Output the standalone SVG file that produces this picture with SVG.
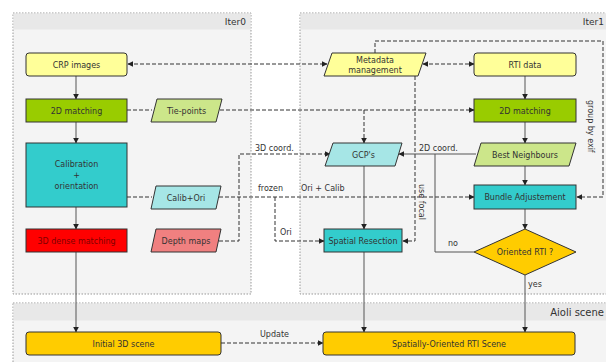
<svg xmlns="http://www.w3.org/2000/svg" width="606" height="362" viewBox="0 0 606 362">
<defs>
<marker id="ah" viewBox="0 0 10 10" refX="9" refY="5" markerWidth="6" markerHeight="6" orient="auto-start-reverse" markerUnits="userSpaceOnUse">
<path d="M0,0 L10,5 L0,10 z" fill="#222"/>
</marker>
<style>
.cont{fill:#f4f4f4;stroke:#999;stroke-width:1;stroke-dasharray:1.5,1.5}
.band{fill:#e8e8e8}
.ct{font-family:"DejaVu Sans",sans-serif;font-size:9px;fill:#333}
.t{font-family:"DejaVu Sans",sans-serif;font-size:8px;fill:#333;text-anchor:middle}
.lbl{font-family:"DejaVu Sans",sans-serif;font-size:8px;fill:#333}
.n{stroke:#333;stroke-width:1}
.s{fill:none;stroke:#555;stroke-width:1}
.d{fill:none;stroke:#333;stroke-width:1;stroke-dasharray:4,2}
</style>
</defs>
<rect width="606" height="362" fill="#fff"/>
<g id="containers">
<rect class="cont" x="13" y="13" width="238" height="281"/>
<rect class="band" x="13.5" y="13.5" width="237" height="16"/>
<text class="ct" x="246" y="25" text-anchor="end">Iter0</text>
<rect class="cont" x="300" y="13" width="310" height="281"/>
<rect class="band" x="300.5" y="13.5" width="306" height="16"/>
<text class="ct" x="604" y="25" text-anchor="end">Iter1</text>
<rect class="cont" x="13" y="303" width="600" height="70"/>
<rect class="band" x="13.5" y="303.5" width="593" height="17"/>
<text class="ct" x="604" y="316" text-anchor="end" style="font-size:10px">Aioli scene</text>
</g>
<g id="connectors">
<path class="s" d="M76,76 V99" marker-end="url(#ah)"/>
<path class="s" d="M76,122 V143" marker-end="url(#ah)"/>
<path class="s" d="M76,207 V229" marker-end="url(#ah)"/>
<path class="s" d="M76,252 V332" marker-end="url(#ah)"/>
<path class="d" d="M128,64 H327" marker-start="url(#ah)" marker-end="url(#ah)"/>
<path class="d" d="M423,64 H474" marker-start="url(#ah)" marker-end="url(#ah)"/>
<path class="d" d="M375,53 V41 H603 V197 H577" marker-end="url(#ah)"/>
<path class="d" d="M127,110 H152"/>
<path class="d" d="M220,110 H474" marker-end="url(#ah)"/>
<path class="d" d="M364,110 V143" marker-end="url(#ah)"/>
<path class="d" d="M127,197 H152"/>
<path class="d" d="M219,197 H474" marker-end="url(#ah)"/>
<path class="d" d="M275,197 V241 H324" marker-end="url(#ah)"/>
<path class="d" d="M219,241 H239 V154 H330" marker-end="url(#ah)"/>
<path class="d" d="M415,76 V241 H403" marker-end="url(#ah)"/>
<path class="s" d="M364,166 V229" marker-end="url(#ah)"/>
<path class="s" d="M476,154 H399" marker-end="url(#ah)"/>
<path class="s" d="M474,252 H435 V154"/>
<path class="s" d="M525,76 V99" marker-end="url(#ah)"/>
<path class="s" d="M525,122 V143" marker-end="url(#ah)"/>
<path class="s" d="M525,166 V185" marker-end="url(#ah)"/>
<path class="s" d="M525,209 V229" marker-end="url(#ah)"/>
<path class="s" d="M525,275 V332" marker-end="url(#ah)"/>
<path class="s" d="M364,252 V332" marker-end="url(#ah)"/>
<path class="d" d="M221,343 H323" marker-end="url(#ah)"/>
<text class="lbl" x="588" y="100" transform="rotate(90 588 100)">group by exif</text>
<text class="lbl" x="419" y="184" transform="rotate(90 419 184)">use focal</text>
<text class="lbl" x="255" y="151">3D coord.</text>
<text class="lbl" x="419" y="151">2D coord.</text>
<text class="lbl" x="258" y="191">frozen</text>
<text class="lbl" x="301" y="191">Ori + Calib</text>
<text class="lbl" x="280" y="235">Ori</text>
<text class="lbl" x="448" y="246">no</text>
<text class="lbl" x="528" y="287">yes</text>
<text class="lbl" x="260" y="337">Update</text>
</g>
<g id="crp"><rect class="n" x="26" y="53" width="101" height="23" rx="3" fill="#ffff99"/><text class="t" x="76.5" y="67.5">CRP images</text></g>
<g id="match0"><rect class="n" x="26" y="99" width="101" height="23" fill="#99cc00"/><text class="t" x="76.5" y="113.5">2D matching</text></g>
<g id="calib"><rect class="n" x="26" y="143" width="101" height="64" fill="#33cccc"/><text class="t" x="76.5" y="167">Calibration</text><text class="t" x="76.5" y="178">+</text><text class="t" x="76.5" y="189">orientation</text></g>
<g id="dense"><rect class="n" x="26" y="229" width="101" height="23" fill="#ff0000"/><text class="t" x="76.5" y="243.5" style="fill:#800000">3D dense matching</text></g>
<g id="tie"><polygon class="n" points="151,122 157,99 222,99 216,122" fill="#cce68a"/><text class="t" x="186.5" y="113.5">Tie-points</text></g>
<g id="calibori"><polygon class="n" points="151,209 156,186 221,186 216,209" fill="#a6e6e6"/><text class="t" x="186" y="200.5">Calib+Ori</text></g>
<g id="depth"><polygon class="n" points="151,252 156,229 221,229 216,252" fill="#f08080"/><text class="t" x="186" y="243.5">Depth maps</text></g>
<g id="init"><rect class="n" x="26" y="332" width="195" height="23" rx="3" fill="#ffcc00"/><text class="t" x="123.5" y="346.5">Initial 3D scene</text></g>
<g id="sors"><rect class="n" x="323" y="332" width="252" height="23" rx="3" fill="#ffcc00"/><text class="t" x="449" y="346.5">Spatially-Oriented RTI Scene</text></g>
<g id="meta"><polygon class="n" points="324,76 332,53 426,53 418,76" fill="#ffff99"/><text class="t" x="375" y="62.5">Metadata</text><text class="t" x="375" y="72.5">management</text></g>
<g id="rti"><rect class="n" x="474" y="53" width="102" height="23" rx="3" fill="#ffff99"/><text class="t" x="525" y="67.5">RTI data</text></g>
<g id="match1"><rect class="n" x="474" y="99" width="102" height="23" fill="#99cc00"/><text class="t" x="525" y="113.5">2D matching</text></g>
<g id="gcp"><polygon class="n" points="325,166 333,143 402,143 395,166" fill="#a6e6e6"/><text class="t" x="363.5" y="157.5">GCP's</text></g>
<g id="best"><polygon class="n" points="474,166 481,143 576,143 569,166" fill="#cce68a"/><text class="t" x="525" y="157.5">Best Neighbours</text></g>
<g id="bundle"><rect class="n" x="474" y="185" width="102" height="24" fill="#33cccc"/><text class="t" x="525" y="200">Bundle Adjustement</text></g>
<g id="resect"><rect class="n" x="324" y="229" width="78" height="23" fill="#33cccc"/><text class="t" x="363" y="243.5">Spatial Resection</text></g>
<g id="oriented"><polygon class="n" points="474,252 525,229 576,252 525,275" fill="#ffcc00"/><text class="t" x="525" y="255">Oriented RTI ?</text></g>
</svg>
